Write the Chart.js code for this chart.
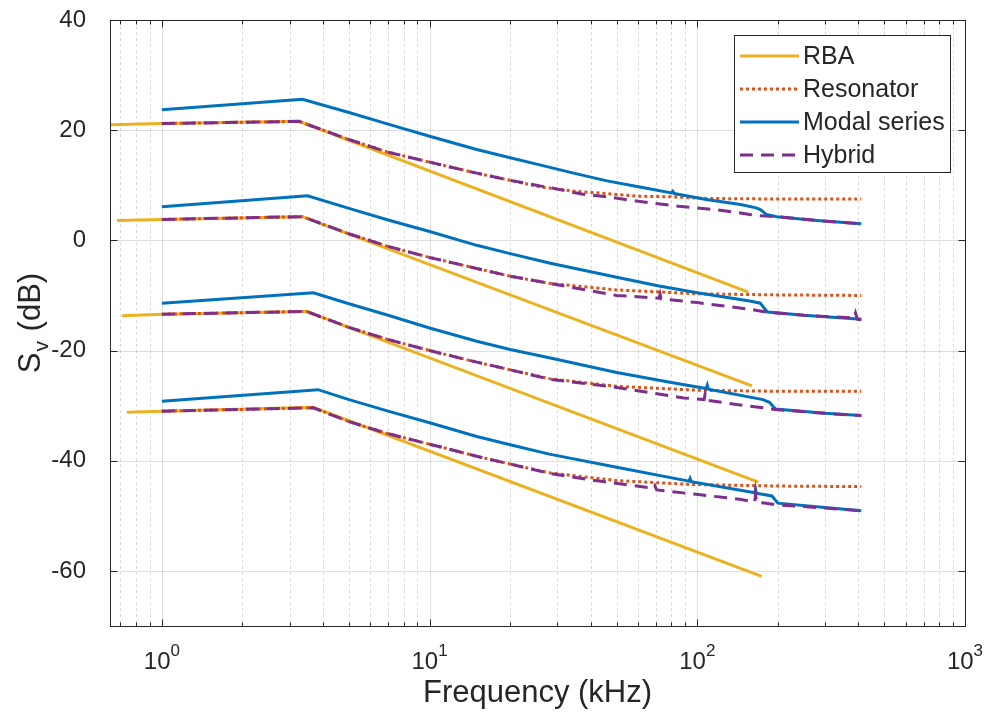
<!DOCTYPE html>
<html>
<head>
<meta charset="utf-8">
<script src="https://cdn.jsdelivr.net/npm/chart.js@4.4.1/dist/chart.umd.min.js"></script>
<style>
  html, body { margin: 0; padding: 0; background: #fff; }
</style>
</head>
<body>
<canvas id="svChart" width="989" height="719"></canvas>
<script>
// one curve per level, top to bottom: [frequency kHz, Sv dB]
const rbaCurves = [
    [[0.64, 21.0], [1, 21.2], [3.25, 21.6], [155, -9.4]],
    [[0.68, 3.6], [1, 3.8], [3.35, 4.3], [160, -26.4]],
    [[0.71, -13.7], [1, -13.4], [3.47, -12.9], [169, -43.9]],
    [[0.74, -31.2], [1, -31.0], [3.68, -30.3], [174, -61.0]]
];

const resonatorCurves = [
    [[1, 21.2], [3.25, 21.6], [5, 18.3], [7, 16.0], [10, 14.2], [15, 12.2], [20, 10.9], [26, 9.7], [35, 8.9], [46, 8.5], [61, 8.0], [81, 7.9], [108, 7.6], [200, 7.5], [410, 7.5]],
    [[1, 3.8], [3.35, 4.3], [5, 1.2], [7, -1.1], [10, -3.1], [15, -5.1], [20, -6.5], [28, -7.8], [50, -9.0], [100, -9.7], [200, -9.9], [410, -10.0]],
    [[1, -13.4], [3.47, -12.9], [5, -15.8], [7, -18.0], [10, -20.0], [15, -22.1], [20, -23.5], [28, -25.1], [50, -26.5], [100, -27.2], [200, -27.4], [410, -27.4]],
    [[1, -31.0], [3.68, -30.4], [5, -32.9], [7, -35.1], [10, -37.0], [15, -39.2], [20, -40.6], [28, -42.2], [50, -43.6], [94, -44.3], [200, -44.6], [410, -44.7]]
];

const modalCurves = [
    [[1, 23.7], [3.35, 25.6], [5, 23.2], [7, 21.1], [10, 18.9], [15, 16.5], [20, 15.0], [25.8, 13.7], [34.5, 12.2], [46, 10.8], [61, 9.7], [80, 8.6], [81, 8.9], [82, 8.5], [108, 7.4], [145, 6.5], [166, 5.9], [172, 5.6], [181, 4.7], [198, 4.3], [280, 3.6], [410, 3.0]],
    [[1, 6.1], [3.5, 8.1], [5, 5.8], [7, 3.7], [10, 1.6], [15, -0.9], [20, -2.4], [28, -4.1], [50, -6.7], [72, -8.3], [100, -9.5], [157, -11.0], [172, -11.4], [177, -12.2], [183, -13.0], [250, -13.6], [410, -14.3]],
    [[1, -11.4], [3.68, -9.5], [5, -11.5], [7, -13.6], [10, -15.9], [15, -18.3], [20, -19.8], [28, -21.3], [50, -24.0], [80, -25.8], [108, -26.9], [109, -26.3], [110, -27.0], [176, -28.9], [186, -29.4], [196, -30.6], [300, -31.4], [410, -31.8]],
    [[1, -29.2], [3.83, -27.1], [5, -28.9], [7, -31.0], [10, -33.1], [15, -35.6], [20, -37.1], [28, -38.8], [50, -41.2], [93, -43.7], [94, -43.2], [95, -43.8], [164, -45.8], [165, -45.2], [166, -45.9], [190, -46.4], [200, -47.7], [300, -48.5], [410, -49.1]]
];

const hybridCurves = [
    [[1, 21.2], [3.25, 21.6], [5, 18.3], [7, 16.0], [10, 14.2], [15, 12.2], [20, 10.9], [30, 9.3], [37, 8.4], [46, 7.9], [56, 7.3], [70, 6.7], [85, 6.2], [105, 5.8], [130, 5.3], [157, 4.7], [170, 4.5], [181, 4.4], [198, 4.3], [280, 3.6], [410, 3.0]],
    [[1, 3.8], [3.35, 4.3], [5, 1.2], [7, -1.1], [10, -3.1], [15, -5.1], [20, -6.5], [28, -7.8], [50, -10.0], [72, -10.5], [72.6, -9.8], [73.2, -10.6], [100, -11.3], [157, -12.5], [180, -13.0], [250, -13.6], [385, -14.1], [390, -13.2], [396, -14.3], [410, -14.4]],
    [[1, -13.4], [3.47, -12.9], [5, -15.8], [7, -18.0], [10, -20.0], [15, -22.1], [20, -23.5], [28, -25.2], [50, -26.7], [89, -28.6], [106, -28.9], [107, -27.9], [108.5, -29.0], [140, -29.8], [176, -30.4], [195, -30.7], [300, -31.4], [410, -31.8]],
    [[1, -31.0], [3.68, -30.4], [5, -32.9], [7, -35.1], [10, -37.0], [15, -39.2], [20, -40.6], [28, -42.3], [43, -43.7], [69, -45.0], [69.5, -44.6], [70.5, -45.3], [99, -46.1], [144, -47.0], [164, -47.5], [165, -46.0], [166.5, -47.6], [181, -47.7], [198, -48.0], [300, -48.6], [410, -49.1]]
];

const seriesNames = ['RBA', 'Resonator', 'Modal series', 'Hybrid'];
const yTicks = [-60, -40, -20, 0, 20, 40];
const xDecades = [0, 1, 2, 3];
const xMin = 0.64, xMax = 1000;
const yMin = -70, yMax = 40;

// MATLAB default line colours and styles
const colors = ['#EDB120', '#D95319', '#0072BD', '#7E2F8E'];
const dashes = [[], [3, 3], [], [13, 8]];
const FONT = "'Liberation Sans', Arial, Helvetica, sans-serif";
const AXIS_COLOR = '#262626';

const datasets = [];
[rbaCurves, resonatorCurves, modalCurves, hybridCurves].forEach((curves, s) => {
    curves.forEach(pts => {
        datasets.push({
            label: seriesNames[s],
            data: pts.map(p => ({ x: p[0], y: p[1] })),
            borderColor: colors[s],
            borderWidth: 3,
            borderDash: dashes[s],
            borderCapStyle: 'butt',
            pointRadius: 0,
            fill: false,
            tension: 0,
            order: 4 - s
        });
    });
});

// grid, box, ticks, labels and legend drawn MATLAB-style
const matlabAxes = {
    id: 'matlabAxes',
    beforeDatasetsDraw(chart) {
        const { ctx, chartArea: a, scales: { x, y } } = chart;
        ctx.save();
        ctx.lineWidth = 1;

        // minor x grid (dotted)
        ctx.strokeStyle = 'rgba(38,38,38,0.17)';
        ctx.setLineDash([3, 3]);
        for (let d = -1; d < 3; d++) {
            for (let m = 2; m <= 9; m++) {
                const v = m * Math.pow(10, d);
                if (v <= xMin || v >= xMax) continue;
                const px = Math.round(x.getPixelForValue(v)) + 0.5;
                ctx.beginPath();
                ctx.moveTo(px, a.top);
                ctx.lineTo(px, a.bottom);
                ctx.stroke();
            }
        }

        // major grid
        ctx.setLineDash([]);
        ctx.strokeStyle = 'rgba(38,38,38,0.15)';
        xDecades.forEach(d => {
            const px = Math.round(x.getPixelForValue(Math.pow(10, d))) + 0.5;
            ctx.beginPath();
            ctx.moveTo(px, a.top);
            ctx.lineTo(px, a.bottom);
            ctx.stroke();
        });
        yTicks.forEach(v => {
            const py = Math.round(y.getPixelForValue(v)) + 0.5;
            ctx.beginPath();
            ctx.moveTo(a.left, py);
            ctx.lineTo(a.right, py);
            ctx.stroke();
        });
        ctx.restore();
    },
    afterDraw(chart) {
        const { ctx, chartArea: a, scales: { x, y } } = chart;
        ctx.save();
        const L = Math.round(a.left) + 0.5, R = Math.round(a.right) + 0.5;
        const T = Math.round(a.top) + 0.5, B = Math.round(a.bottom) + 0.5;

        // box
        ctx.strokeStyle = AXIS_COLOR;
        ctx.lineWidth = 1;
        ctx.strokeRect(L, T, R - L, B - T);

        // ticks
        ctx.beginPath();
        for (let d = -1; d < 3; d++) {
            for (let m = 1; m <= 9; m++) {
                const v = m * Math.pow(10, d);
                if (v <= xMin || v > xMax) continue;
                const px = Math.round(x.getPixelForValue(v)) + 0.5;
                const len = m === 1 ? 7 : 4;
                ctx.moveTo(px, B); ctx.lineTo(px, B - len);
                ctx.moveTo(px, T); ctx.lineTo(px, T + len);
            }
        }
        yTicks.forEach(v => {
            const py = Math.round(y.getPixelForValue(v)) + 0.5;
            ctx.moveTo(L, py); ctx.lineTo(L + 7, py);
            ctx.moveTo(R, py); ctx.lineTo(R - 7, py);
        });
        ctx.stroke();

        ctx.fillStyle = AXIS_COLOR;

        // y tick labels
        ctx.font = `24px ${FONT}`;
        ctx.textAlign = 'right';
        ctx.textBaseline = 'middle';
        yTicks.forEach(v => {
            ctx.fillText(String(v), a.left - 24, y.getPixelForValue(v));
        });

        // x tick labels 10^n
        ctx.textBaseline = 'alphabetic';
        ctx.textAlign = 'left';
        xDecades.forEach(d => {
            const cx = x.getPixelForValue(Math.pow(10, d));
            ctx.font = `24px ${FONT}`;
            const wb = ctx.measureText('10').width;
            ctx.font = `17px ${FONT}`;
            const we = ctx.measureText(String(d)).width;
            const x0 = cx - (wb + we) / 2;
            ctx.font = `24px ${FONT}`;
            ctx.fillText('10', x0, a.bottom + 43);
            ctx.font = `17px ${FONT}`;
            ctx.fillText(String(d), x0 + wb, a.bottom + 30);
        });

        // x axis title
        ctx.font = `31px ${FONT}`;
        ctx.textAlign = 'center';
        ctx.fillText('Frequency (kHz)', (a.left + a.right) / 2, a.bottom + 76);

        // y axis title S_v (dB)
        ctx.translate(40, (a.top + a.bottom) / 2);
        ctx.rotate(-Math.PI / 2);
        ctx.textAlign = 'left';
        ctx.font = `31px ${FONT}`;
        const wS = ctx.measureText('S').width;
        const wRest = ctx.measureText(' (dB)').width;
        ctx.font = `21px ${FONT}`;
        const wV = ctx.measureText('v').width;
        const sx = -(wS + wV + 2 + wRest) / 2;
        ctx.font = `31px ${FONT}`;
        ctx.fillText('S', sx, 0);
        ctx.font = `21px ${FONT}`;
        ctx.fillText('v', sx + wS + 1, 8);
        ctx.font = `31px ${FONT}`;
        ctx.fillText(' (dB)', sx + wS + wV + 2, 0);
        ctx.setTransform(1, 0, 0, 1, 0, 0);

        // legend
        const bx = 734.5, by = 35.5, bw = 216, bh = 137;
        ctx.fillStyle = '#fff';
        ctx.fillRect(bx, by, bw, bh);
        ctx.strokeStyle = AXIS_COLOR;
        ctx.lineWidth = 1;
        ctx.strokeRect(bx, by, bw, bh);
        ctx.font = `25px ${FONT}`;
        ctx.textAlign = 'left';
        ctx.textBaseline = 'middle';
        seriesNames.forEach((name, i) => {
            const ly = 56 + i * 33;
            ctx.strokeStyle = colors[i];
            ctx.lineWidth = 3;
            ctx.lineCap = 'butt';
            ctx.setLineDash(dashes[i]);
            ctx.beginPath();
            ctx.moveTo(740, ly);
            ctx.lineTo(799, ly);
            ctx.stroke();
            ctx.setLineDash([]);
            ctx.fillStyle = AXIS_COLOR;
            ctx.fillText(name, 803, ly + 1);
        });
        ctx.restore();
    }
};

Chart.defaults.font.family = FONT;

new Chart(document.getElementById('svChart').getContext('2d'), {
    type: 'line',
    data: { datasets },
    options: {
        responsive: false,
        animation: false,
        layout: { padding: { left: 110, right: 24, top: 20, bottom: 93 } },
        scales: {
            x: { type: 'logarithmic', bounds: 'data', min: xMin, max: xMax, display: false },
            y: { type: 'linear', min: yMin, max: yMax, display: false }
        },
        plugins: {
            legend: { display: false },
            tooltip: { enabled: false }
        }
    },
    plugins: [matlabAxes]
});
</script>
</body>
</html>
